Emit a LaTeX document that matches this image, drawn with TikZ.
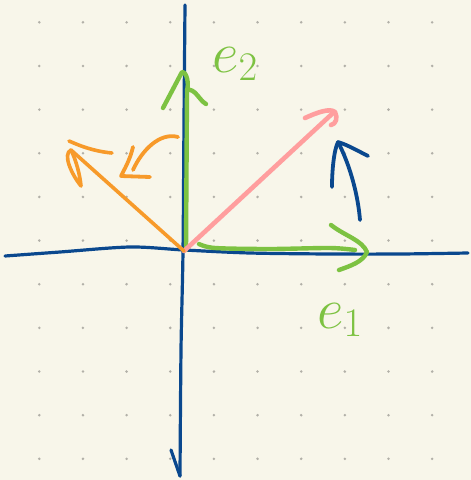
\RequirePackage{fix-cm}
\documentclass[tikz,border=0pt]{standalone}
\usepackage{xcolor}
\usepackage{amsmath,amssymb}
\usepackage{tikz}
\usetikzlibrary{
	arrows.meta,
	positioning,
	calc
}
\definecolor{paper}{RGB}{248,246,234}
\definecolor{dotgray}{RGB}{178,176,168}
\definecolor{axisblue}{RGB}{10,72,142}
\definecolor{vecgreen}{RGB}{125,194,66}
\definecolor{vecpink}{RGB}{255,158,158}
\definecolor{vecorange}{RGB}{247,154,42}

\begin{document}
\begin{tikzpicture}[x=1pt, y=-1pt,
				pen/.style={line cap=round, line join=round},
				axis/.style={pen, draw=axisblue, line width=3.2pt},
				greenvec/.style={pen, draw=vecgreen, line width=4.4pt},
				pinkvec/.style={pen, draw=vecpink, line width=4.6pt},
				orangevec/.style={pen, draw=vecorange, line width=3.6pt},
				turn/.style={pen, line width=3.8pt},
				veclabel/.style={
					inner sep=0pt, text=vecgreen,
					font=\fontsize{58}{58}\selectfont
				},
				]
				
				\fill[paper] (0,0) rectangle (471,480);
				\useasboundingbox (0,0) rectangle (471,480);
				
				%dot grid
				\foreach \i in {0,...,9}
					\foreach \j in {0,...,10}
						\fill[dotgray] (39.3+43.65*\i, 22.3+43.65*\j) circle (1.4);
				
				\coordinate (origin) at (184,251);
				\coordinate (e1tip) at (367,252);
				\coordinate (e2tip) at (182,72);
				\coordinate (pinktip) at (335,112);
				\coordinate (orangetip) at (69,141);
				
				%axes
				\draw[axis] plot[smooth] coordinates {(5,256) (60,252) (130,247) (184,250) (250,253) (330,254) (400,254) (468,253)};
				\draw[axis] plot[smooth] coordinates {(185,5) (184,120) (183,251) (181,350) (180,476)};
				\draw[axis] (171,450) -- (180,476);
				
				%e1
				\draw[greenvec] plot[smooth] coordinates {(199,244) (215,248) (270,249) (330,248) (355,250)};
				\draw[greenvec] (331,225) .. controls (345,236) and (362,240) .. (e1tip) .. controls (363,262) and (350,266) .. (339,270);
				\node (e1) at (e1tip) [veclabel, anchor=base west, xshift=-50pt, yshift=-76pt] {$e_1$};
				
				%e2
				\draw[greenvec] (186,250) -- (187,90);
				\draw[greenvec] (163,108) -- (e2tip) .. controls (187,72) and (189,84) .. (187,90) .. controls (195,88) and (199,100) .. (206,104);
				\node (e2) at (e2tip) [veclabel, anchor=base west, xshift=30pt, yshift=0pt] {$e_2$};
				
				%pink
				\draw[pinkvec] (origin) -- (333,113);
				\draw[pinkvec] (305,118) .. controls (318,112) and (330,108) .. (pinktip) .. controls (338,118) and (336,124) .. (331,125);
				
				%orange
				\draw[orangevec] (origin) -- (71,150);
				\draw[orangevec] (112,153) .. controls (90,151) and (74,143) .. (orangetip);
				\draw[orangevec] (71,150) .. controls (62,154) and (72,175) .. (81,186) .. controls (80,175) and (76,160) .. (71,150);
				
				%turning arrows
				\draw[turn, vecorange] (178,137) .. controls (160,132) and (142,150) .. (133,170);
				\draw[turn, vecorange] (133,147) .. controls (130,160) and (124,170) .. (121,176) -- (150,177);
				\draw[turn, axisblue] (360,220) .. controls (358,195) and (350,165) .. (338,142);
				\draw[turn, axisblue] (332,187) .. controls (332,170) and (334,150) .. (338,142) .. controls (348,145) and (360,152) .. (368,156);
			\end{tikzpicture}
\end{document}
